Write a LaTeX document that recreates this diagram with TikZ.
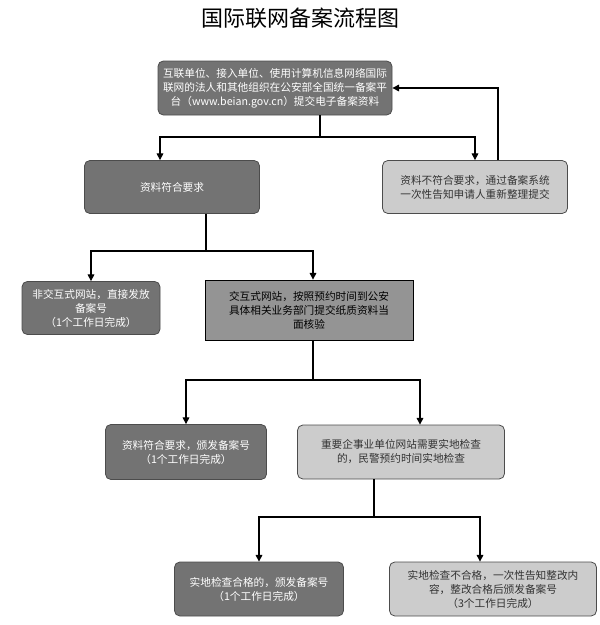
\documentclass[tikz,border=0pt]{standalone}
\usepackage{fontspec}
\setmainfont{Noto Sans CJK SC}
\usetikzlibrary{arrows.meta}
\begin{document}
\begin{tikzpicture}[x=0.75pt,y=-0.75pt,
 box/.style={draw=black!70,line width=0.6pt,rounded corners=4pt,align=center,inner sep=1pt,font=\fontsize{8}{10.5}\selectfont},
 dark/.style={box,fill=black!55,text=white},
 light/.style={box,fill=black!20,text=black!80},
 mid/.style={box,rounded corners=0pt,draw=black,fill=black!42,text=black},
 arr/.style={-{Triangle[length=5pt,width=5pt]},line width=0.8pt},
 ln/.style={line width=0.8pt}]
\useasboundingbox (0,0) rectangle (600,625);
\node (title) at (300,18) {\fontsize{16.5}{19}\selectfont 国际联网备案流程图};
\node[dark,minimum width=234*0.75pt,minimum height=54*0.75pt] (b1) at (275,88) {互联单位、接入单位、使用计算机信息网络国际\\联网的法人和其他组织在公安部全国统一备案平\\台（www.beian.gov.cn）提交电子备案资料};
\node[dark,minimum width=175*0.75pt,minimum height=53*0.75pt] (b2) at (172,187) {资料符合要求};
\node[light,minimum width=185*0.75pt,minimum height=53*0.75pt] (b3) at (475,187) {资料不符合要求，通过备案系统\\一次性告知申请人重新整理提交};
\node[dark,minimum width=138*0.75pt,minimum height=53*0.75pt] (b4) at (91,308) {非交互式网站，直接发放\\备案号\\（1个工作日完成）};
\node[mid,minimum width=208*0.75pt,minimum height=60*0.75pt] (b5) at (309,310) {交互式网站，按照预约时间到公安\\具体相关业务部门提交纸质资料当\\面核验};
\node[dark,minimum width=161*0.75pt,minimum height=55*0.75pt] (b6) at (186,452) {资料符合要求，颁发备案号\\（1个工作日完成）};
\node[light,minimum width=207*0.75pt,minimum height=54*0.75pt] (b7) at (401,452) {重要企事业单位网站需要实地检查\\的，民警预约时间实地检查};
\node[dark,minimum width=169*0.75pt,minimum height=54*0.75pt] (b8) at (259,589) {实地检查合格的，颁发备案号\\（1个工作日完成）};
\node[light,minimum width=207*0.75pt,minimum height=54*0.75pt] (b9) at (493,589) {实地检查不合格，一次性告知整改内\\容，整改合格后颁发备案号\\（3个工作日完成）};
\coordinate (j1) at (320,137);
\coordinate (j2) at (206,251);
\coordinate (j3) at (313,380);
\coordinate (j4) at (374,517);
\draw[ln] (b1.south -| j1) -- (j1);
\draw[arr] (j1) -| (b2.north -| 160,0);
\draw[arr] (j1) -| (b3.north);
\draw[arr] (b3.north -| 498,0) |- (b1.east);
\draw[ln] (b2.south -| j2) -- (j2);
\draw[arr] (j2) -| (b4.north);
\draw[arr] (j2) -| (b5.north -| 313,0);
\draw[ln] (b5.south -| j3) -- (j3);
\draw[arr] (j3) -| (b6.north);
\draw[arr] (j3) -| (b7.north -| 420,0);
\draw[ln] (b7.south -| j4) -- (j4);
\draw[arr] (j4) -| (b8.north);
\draw[arr] (j4) -| (b9.north -| 480,0);
\end{tikzpicture}
\end{document}
